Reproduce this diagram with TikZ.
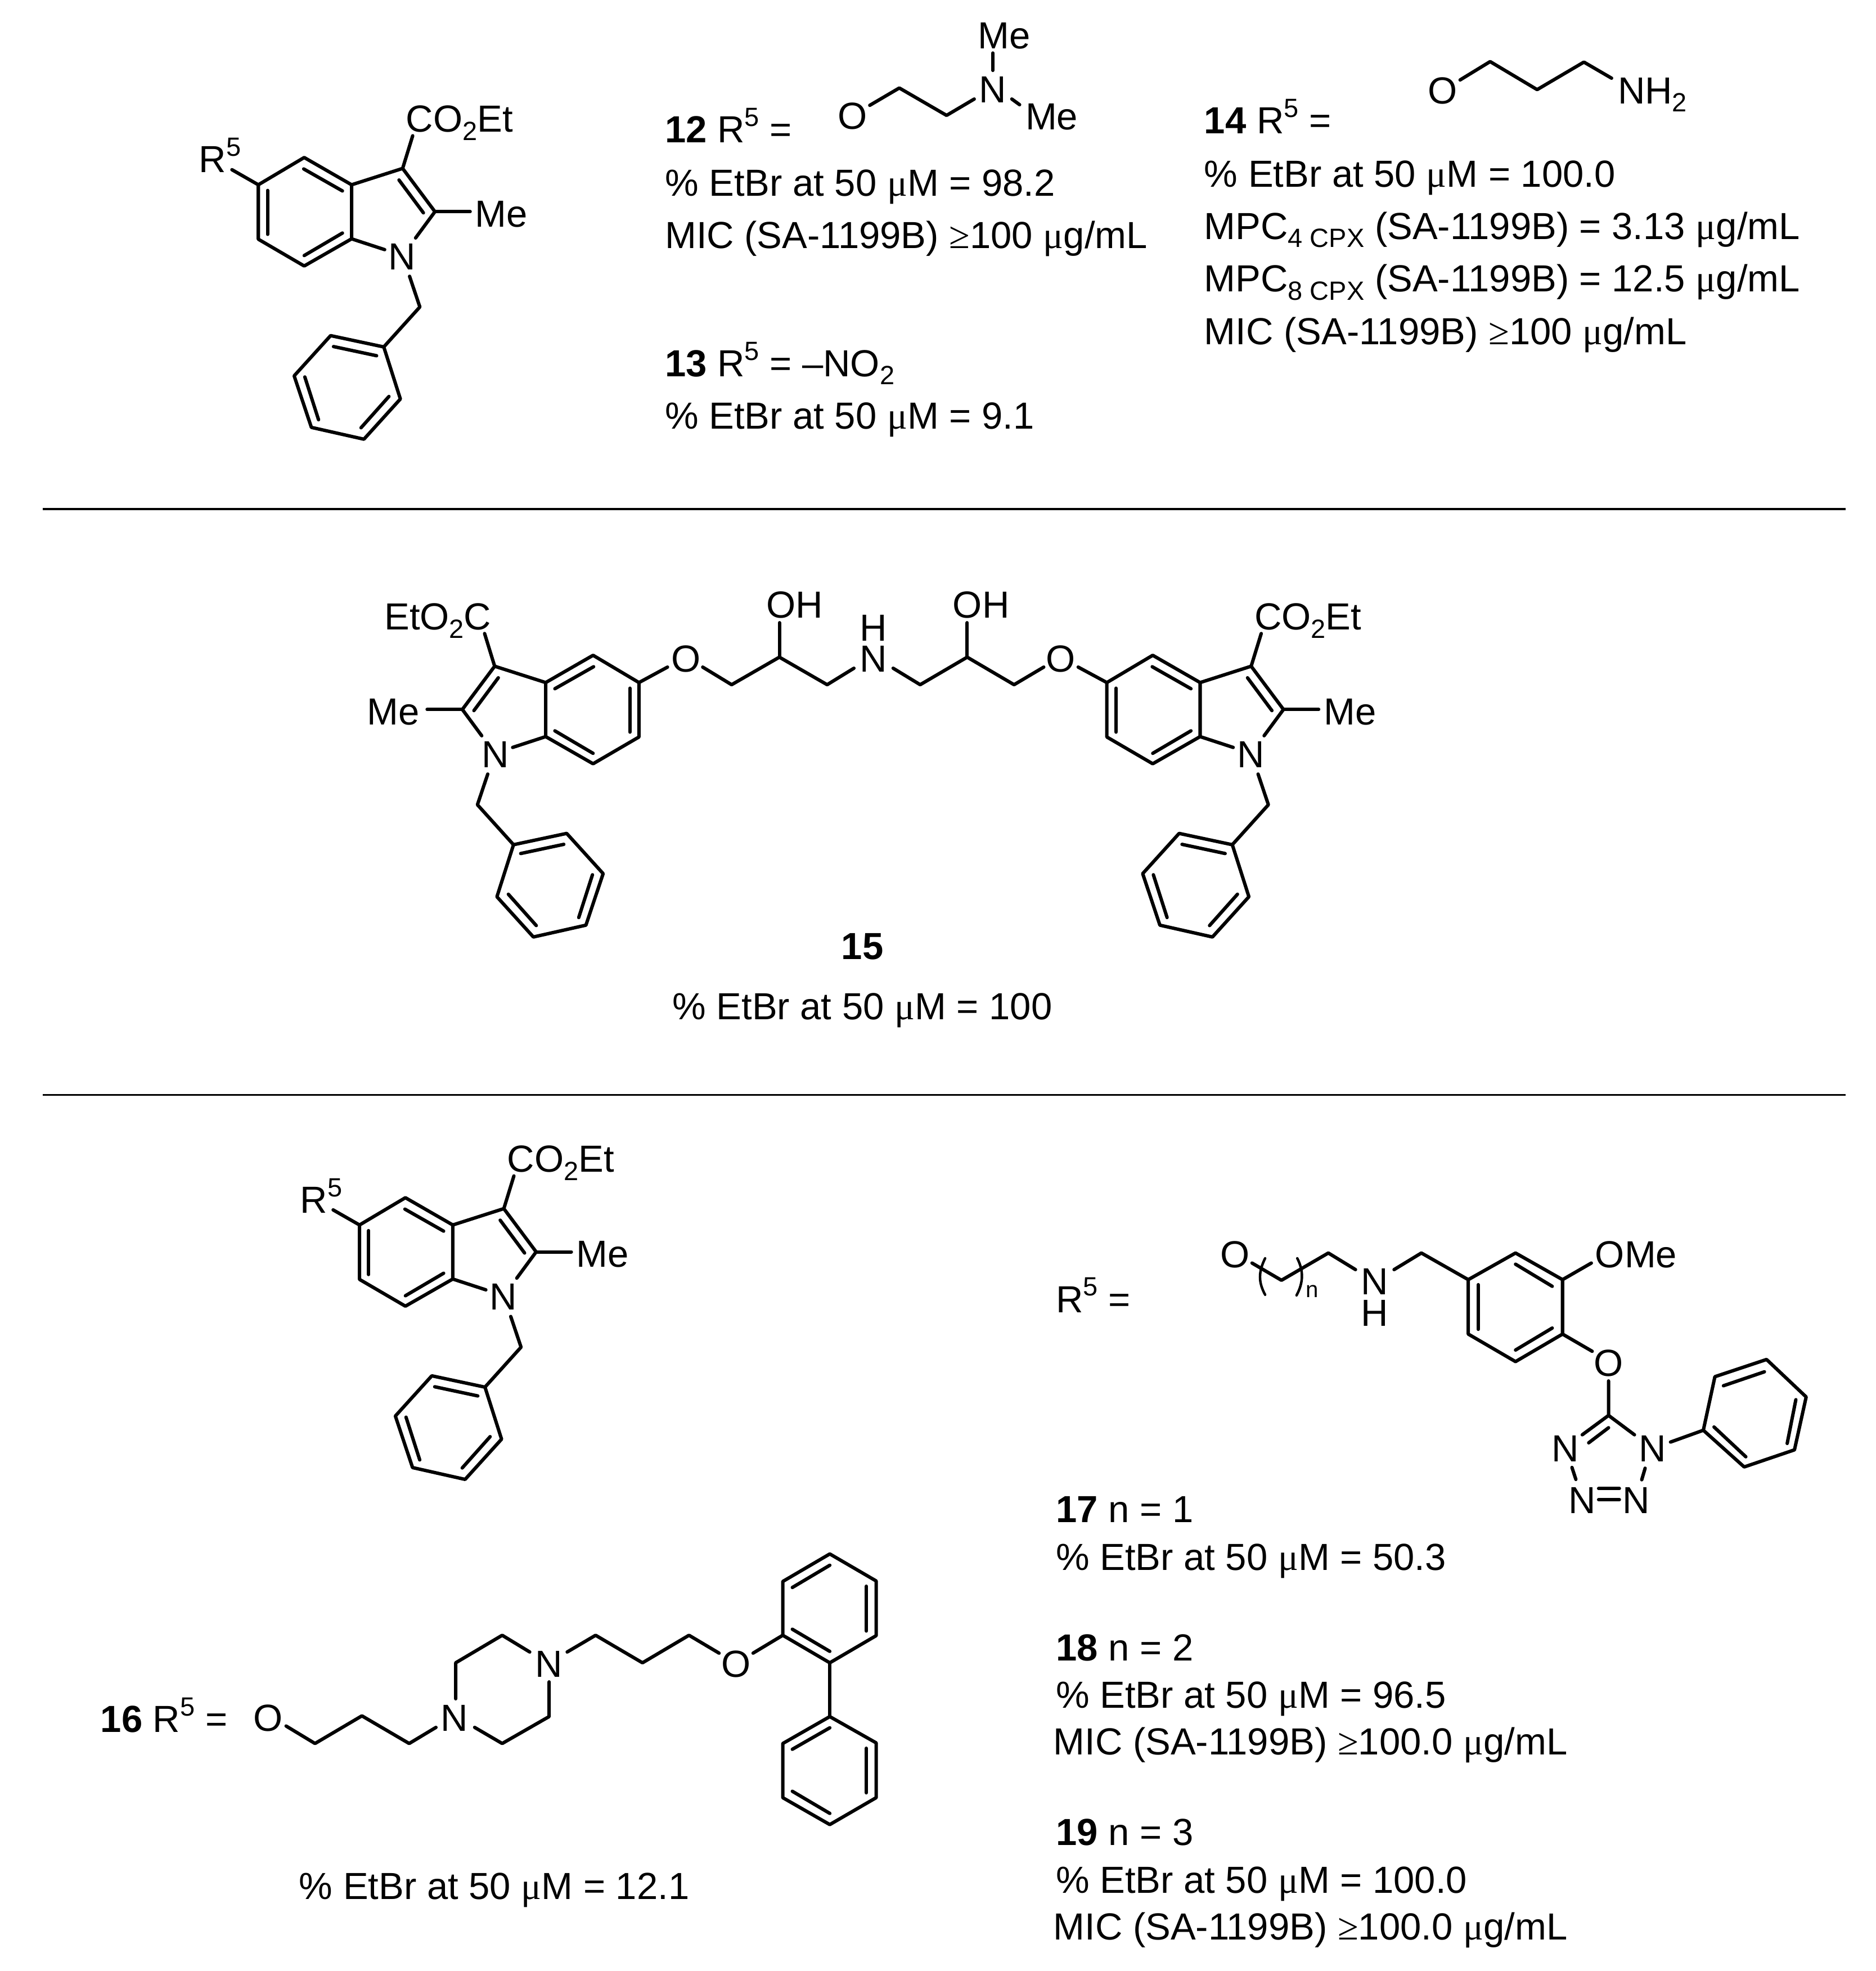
\documentclass[tikz,border=0pt]{standalone}
\usepackage{fontspec}
\setmainfont{Liberation Sans}
\newfontfamily\symf{Liberation Serif}
\newcommand\um{{\symf μ}}
\newcommand\gee{{\symf ≥}}
\newcommand\supr[1]{\raisebox{13pt}{\fontsize{21}{21}\selectfont #1}}
\newcommand\subr[1]{\raisebox{-6.5pt}{\fontsize{21}{21}\selectfont #1}}
\tikzset{
  bond/.style={line width=2.7pt,line cap=round,line join=round,black},
  thinbond/.style={line width=2pt,line cap=round,black},
  rulea/.style={line width=1.5pt,black},
  atom/.style={inner sep=0pt,outer sep=0pt,anchor=base,font=\fontsize{30}{30}\selectfont},
  txt/.style={inner sep=0pt,outer sep=0pt,anchor=base west,font=\fontsize{30}{30}\selectfont},
  txte/.style={inner sep=0pt,outer sep=0pt,anchor=base east,font=\fontsize{30}{30}\selectfont},
  txtc/.style={inner sep=0pt,outer sep=0pt,anchor=base,font=\fontsize{30}{30}\selectfont},
}
\newcommand\pts[1]{\foreach \n/\x/\y in {#1} {\coordinate (\n) at (\x,\y);}}
\newcommand\benzindole[1]{%
  \foreach \n/\x/\y in {c5/205.5/147,c4/242/125.3,c3a/279.7/147,c3/320.3/134,c2/346/168.4,
    c7a/279.7/190,c7/242/211.6,c6/205.5/190.3,ch/334/244.2,
    pa/305.3/276,pb/263/267,pc/234/299,pd/247.7/340,pe/289.5/349.4,pf/318.5/317.4,
    i1/241.6/134.4,i2/272.4/151.9,i3/212.8/151.5,i4/212.8/186.4,i5/242/203.3,i6/272.4/185.4,
    i7/317.4/143.2,i8/336.8/169.3,
    j1/265.3/275.7,j2/299.6/283,j3/242.5/299.9,j4/253.4/333.9,j5/287.2/340.3,j6/309.4/315.4,
    na/306/198.6,nb/330.6/189.3,nc/325.8/219.8,
    co/328.3/108,me/374/168.4,re/184.5/135}
    {\coordinate (#1\n) at (\x,\y);}
  \draw[bond] (#1c5)--(#1c4)--(#1c3a)--(#1c7a)--(#1c7)--(#1c6)--cycle;
  \draw[bond] (#1c3a)--(#1c3)--(#1c2)--(#1nb);
  \draw[bond] (#1c7a)--(#1na);
  \draw[bond] (#1nc)--(#1ch)--(#1pa);
  \draw[bond] (#1pa)--(#1pb)--(#1pc)--(#1pd)--(#1pe)--(#1pf)--cycle;
  \draw[bond] (#1i1)--(#1i2);
  \draw[bond] (#1i3)--(#1i4);
  \draw[bond] (#1i5)--(#1i6);
  \draw[bond] (#1i7)--(#1i8);
  \draw[bond] (#1j1)--(#1j2);
  \draw[bond] (#1j3)--(#1j4);
  \draw[bond] (#1j5)--(#1j6);
  \draw[bond] (#1c3)--(#1co);
  \draw[bond] (#1c2)--(#1me);
}
\begin{document}
\begin{tikzpicture}[x=1pt,y=-1pt]
\useasboundingbox (0,0) rectangle (1492,1568);
\fill[white] (0,0) rectangle (1492,1568);

% rules
\coordinate (ra) at (34,405); \coordinate (rb) at (1468,405);
\coordinate (rc) at (34,871); \coordinate (rd) at (1468,871);
\draw[rulea] (ra)--(rb);
\draw[rulea] (rc)--(rd);

% ---------- top indole
\benzindole{t}
\draw[bond] (tc5)--(tre);
\node[txt] (tco) at (323,105) {CO\subr{2}Et};
\node[txt] (tme) at (378,180.6) {Me};
\node[atom] (tn) at (320,214.5) {N};
\node[txt] (tr) at (158.4,137.3) {R\supr{5}};

% ---------- 12
\pts{a1/691.9/83.8,a2/715.4/70,a3/753/91.8,a4/775/78.8,a5/789.8/42.2,a6/789.8/56,a7/804.9/78.8,a8/811.1/83.3}
\node[atom] (ao) at (678.4,102.7) {O};
\node[atom] (an) at (789.8,81.7) {N};
\node[txt] (am1) at (778,38.8) {Me};
\node[txt] (am2) at (815.8,103.2) {Me};
\draw[bond] (a1)--(a2)--(a3)--(a4);
\draw[bond] (a5)--(a6);
\draw[bond] (a7)--(a8);
\node[txt] (t12) at (529,113.5) {\textbf{12} R\supr{5} =};
\node[txt] (t12b) at (529,156) {\% EtBr at 50 \um M = 98.2};
\node[txt] (t12c) at (529,197.5) {MIC (SA-1199B) \gee 100 \um g/mL};
\node[txt] (t13) at (529,299.5) {\textbf{13} R\supr{5} = –NO\subr{2}};
\node[txt] (t13b) at (529,341) {\% EtBr at 50 \um M = 9.1};

% ---------- 14
\pts{b1/1161.5/63.6,b2/1185.4/49,b3/1222.8/71.3,b4/1260/49.4,b5/1282/62.2}
\node[atom] (bo) at (1147.8,82.4) {O};
\node[txt] (bn) at (1287,82.4) {NH\subr{2}};
\draw[bond] (b1)--(b2)--(b3)--(b4)--(b5);
\node[txt] (t14) at (958,106.4) {\textbf{14} R\supr{5} =};
\node[txt] (t14b) at (958,148.7) {\% EtBr at 50 \um M = 100.0};
\node[txt] (t14c) at (958,190.3) {MPC\subr{4 CPX} (SA-1199B) = 3.13 \um g/mL};
\node[txt] (t14d) at (958,232.2) {MPC\subr{8 CPX} (SA-1199B) = 12.5 \um g/mL};
\node[txt] (t14e) at (958,274.2) {MIC (SA-1199B) \gee 100 \um g/mL};

% ---------- 15
\begin{scope}[shift={(675,396)}]
  \benzindole{r}
\end{scope}
\begin{scope}[xshift=713.8pt,xscale=-1,yshift=-396pt]
  \benzindole{l}
\end{scope}
\node[txt] (rco) at (998,501) {CO\subr{2}Et};
\node[txt] (rme) at (1053,576.6) {Me};
\node[atom] (rn) at (995,610.5) {N};
\node[txte] (lco) at (390.8,501) {EtO\subr{2}C};
\node[txte] (lme) at (333.8,576.6) {Me};
\node[atom] (ln) at (394,610.5) {N};
\pts{m1/531/530.7,m2/559/530.7,m3/582/544.7,m4/620/522.8,m5/658/544.7,m6/679.3/531.6,
     m7/710.5/531.6,m8/732/544.7,m9/769.4/522.8,m10/806.7/544.7,m11/830.3/530.7,m12/857.7/530.7,
     m13/620/495.4,m14/769.4/495.4}
\node[atom] (mo1) at (545.7,534.7) {O};
\node[atom] (mo2) at (843.7,534.7) {O};
\node[atom] (mn) at (694.8,534.4) {N};
\node[atom] (mh) at (694.8,509.7) {H};
\node[txt] (moh1) at (609.6,491.4) {OH};
\node[txt] (moh2) at (758,491.4) {OH};
\draw[bond] (lc5)--(m1);
\draw[bond] (m2)--(m3)--(m4)--(m5)--(m6);
\draw[bond] (m7)--(m8)--(m9)--(m10)--(m11);
\draw[bond] (m12)--(rc5);
\draw[bond] (m4)--(m13);
\draw[bond] (m9)--(m14);
\node[txtc] (t15) at (686,763) {\textbf{15}};
\node[txtc] (t15b) at (686,811) {\% EtBr at 50 \um M = 100};

% ---------- bottom indole
\begin{scope}[shift={(80.5,827.5)}]
  \benzindole{u}
\end{scope}
\draw[bond] (uc5)--(ure);
\node[txt] (uco) at (403.5,932.5) {CO\subr{2}Et};
\node[txt] (ume) at (458.5,1008.1) {Me};
\node[atom] (un) at (400.5,1042) {N};
\node[txt] (ur) at (238.9,964.8) {R\supr{5}};

% ---------- 16
\pts{d1/227.6/1373.1,d2/250.6/1387,d3/287.9/1365,d4/325.5/1387,d5/346.8/1374.2,
     d6/362.5/1351.4,d7/362.5/1322.8,d8/399.5/1300.9,d9/421.4/1314.2,
     d10/436.8/1338,d11/436.8/1365.6,d12/399.5/1387,d13/377.6/1374.2,
     d14/451.2/1314.2,d15/473.8/1300.9,d16/511.1/1322.8,d17/548.1/1300.9,d18/572/1315.1,
     d19/599.1/1315.1,d20/622.7/1300.9,
     e1/622.7/1258.1,e2/660.1/1236.2,e3/697/1257.7,e4/697/1301.2,e5/660.1/1322.8,
     e6/630.3/1262.9,e7/660.1/1245.2,e8/689.2/1261.9,e9/689.2/1297.5,e10/630.3/1296.1,e11/660.1/1313.7,
     f0/660.1/1365.6,f1/622.7/1387,f2/622.7/1430.1,f3/660.1/1451.5,f4/697/1430.1,f5/697/1386.5,
     f6/630.3/1391.6,f7/660.1/1374.5,f8/689.2/1390.8,f9/689.2/1426.2,f10/630.3/1425,f11/660.1/1442.6}
\node[txt] (t16) at (80,1378) {\textbf{16} R\supr{5} =};
\node[atom] (do) at (213.2,1377) {O};
\node[atom] (dn1) at (361.5,1377) {N};
\node[atom] (dn2) at (436.8,1334.3) {N};
\node[atom] (do2) at (585.4,1334.3) {O};
\draw[bond] (d1)--(d2)--(d3)--(d4)--(d5);
\draw[bond] (d6)--(d7)--(d8)--(d9);
\draw[bond] (d10)--(d11)--(d12)--(d13);
\draw[bond] (d14)--(d15)--(d16)--(d17)--(d18);
\draw[bond] (d19)--(d20);
\draw[bond] (d20)--(e1)--(e2)--(e3)--(e4)--(e5)--cycle;
\draw[bond] (e6)--(e7);
\draw[bond] (e8)--(e9);
\draw[bond] (e10)--(e11);
\draw[bond] (e5)--(f0);
\draw[bond] (f0)--(f1)--(f2)--(f3)--(f4)--(f5)--cycle;
\draw[bond] (f6)--(f7);
\draw[bond] (f8)--(f9);
\draw[bond] (f10)--(f11);
\node[txt] (t16b) at (238,1511) {\% EtBr at 50 \um M = 12.1};

% ---------- 17-19
\pts{g1/996/1004.8,g2/1019.4/1018.5,g3/1056.7/996.8,g4/1078.3/1010,g5/1109/1010,g6/1130.7/996.8,
     h1/1168/1018,h2/1205.6/996.8,h3/1243/1018,h4/1243/1061.3,h5/1205.6/1083.2,h6/1168/1061.3,
     h7/1205.6/1005.7,h8/1234.8/1023.3,h9/1175.9/1022,h10/1175.9/1057.5,h11/1234.8/1056.5,h12/1205.6/1074,
     k1/1265.9/1004.8,k2/1266.6/1075,k3/1279.6/1098.6,k4/1279.6/1126,
     k5/1258.7/1141.4,k6/1279.6/1135.8,k7/1263.8/1147.8,k8/1300.2/1141.4,
     k9/1250.5/1167.4,k10/1253.6/1176.9,k11/1308.7/1168,k12/1306/1177.2,
     k13/1271.7/1184.2,k14/1288.2/1184.2,k15/1271.7/1193,k16/1288.2/1193,
     q0/1328.9/1147.2,q1/1355/1137.8,q2/1364.2/1095.2,q3/1405.3/1081.5,q4/1436.8/1111.3,q5/1427.5/1153.4,q6/1387.5/1167,
     q7/1371/1102.4,q8/1403.6/1091.3,q9/1428.6/1113.5,q10/1421.7/1148.3,q11/1388.8/1158.9,q12/1363.5/1135.2,
     s1/1006.4/1001,s2/1001/1012,s3/1001/1020,s4/1006.4/1030,
     s5/1032/1001,s6/1037/1011,s7/1037/1020,s8/1031.4/1030.5}
\node[txt] (tr5) at (840,1044) {R\supr{5} =};
\node[atom] (go) at (982.4,1008.6) {O};
\node[atom] (gn) at (1093.7,1030) {N};
\node[atom] (gh) at (1093.7,1054.8) {H};
\node[txt] (gome) at (1269,1008.6) {OMe};
\node[atom] (ko) at (1279.6,1094.7) {O};
\node[atom] (kn1) at (1245,1162.6) {N};
\node[atom] (kn2) at (1314.5,1162.6) {N};
\node[atom] (kn3) at (1258.7,1204) {N};
\node[atom] (kn4) at (1301.5,1204) {N};
\node[inner sep=0pt,anchor=base west,font=\fontsize{18}{18}\selectfont] (gnn) at (1038.5,1032) {n};
\draw[bond] (g1)--(g2)--(g3)--(g4);
\draw[bond] (g5)--(g6)--(h1);
\draw[bond] (h1)--(h2)--(h3)--(h4)--(h5)--(h6)--cycle;
\draw[bond] (h7)--(h8);
\draw[bond] (h9)--(h10);
\draw[bond] (h11)--(h12);
\draw[bond] (h3)--(k1);
\draw[bond] (h4)--(k2);
\draw[bond] (k3)--(k4)--(k5);
\draw[bond] (k6)--(k7);
\draw[bond] (k4)--(k8);
\draw[bond] (k9)--(k10);
\draw[bond] (k11)--(k12);
\draw[bond] (k13)--(k14);
\draw[bond] (k15)--(k16);
\draw[bond] (q0)--(q1);
\draw[bond] (q1)--(q2)--(q3)--(q4)--(q5)--(q6)--cycle;
\draw[bond] (q7)--(q8);
\draw[bond] (q9)--(q10);
\draw[bond] (q11)--(q12);
\draw[thinbond] (s1) .. controls (s2) and (s3) .. (s4);
\draw[thinbond] (s5) .. controls (s6) and (s7) .. (s8);
\node[txt] (t17) at (840,1211) {\textbf{17} n = 1};
\node[txt] (t17b) at (840,1249) {\% EtBr at 50 \um M = 50.3};
\node[txt] (t18) at (840,1321) {\textbf{18} n = 2};
\node[txt] (t18b) at (840,1359) {\% EtBr at 50 \um M = 96.5};
\node[txt] (t18c) at (838,1396) {MIC (SA-1199B) \gee 100.0 \um g/mL};
\node[txt] (t19) at (840,1468) {\textbf{19} n = 3};
\node[txt] (t19b) at (840,1506) {\% EtBr at 50 \um M = 100.0};
\node[txt] (t19c) at (838,1543) {MIC (SA-1199B) \gee 100.0 \um g/mL};
\end{tikzpicture}
\end{document}
